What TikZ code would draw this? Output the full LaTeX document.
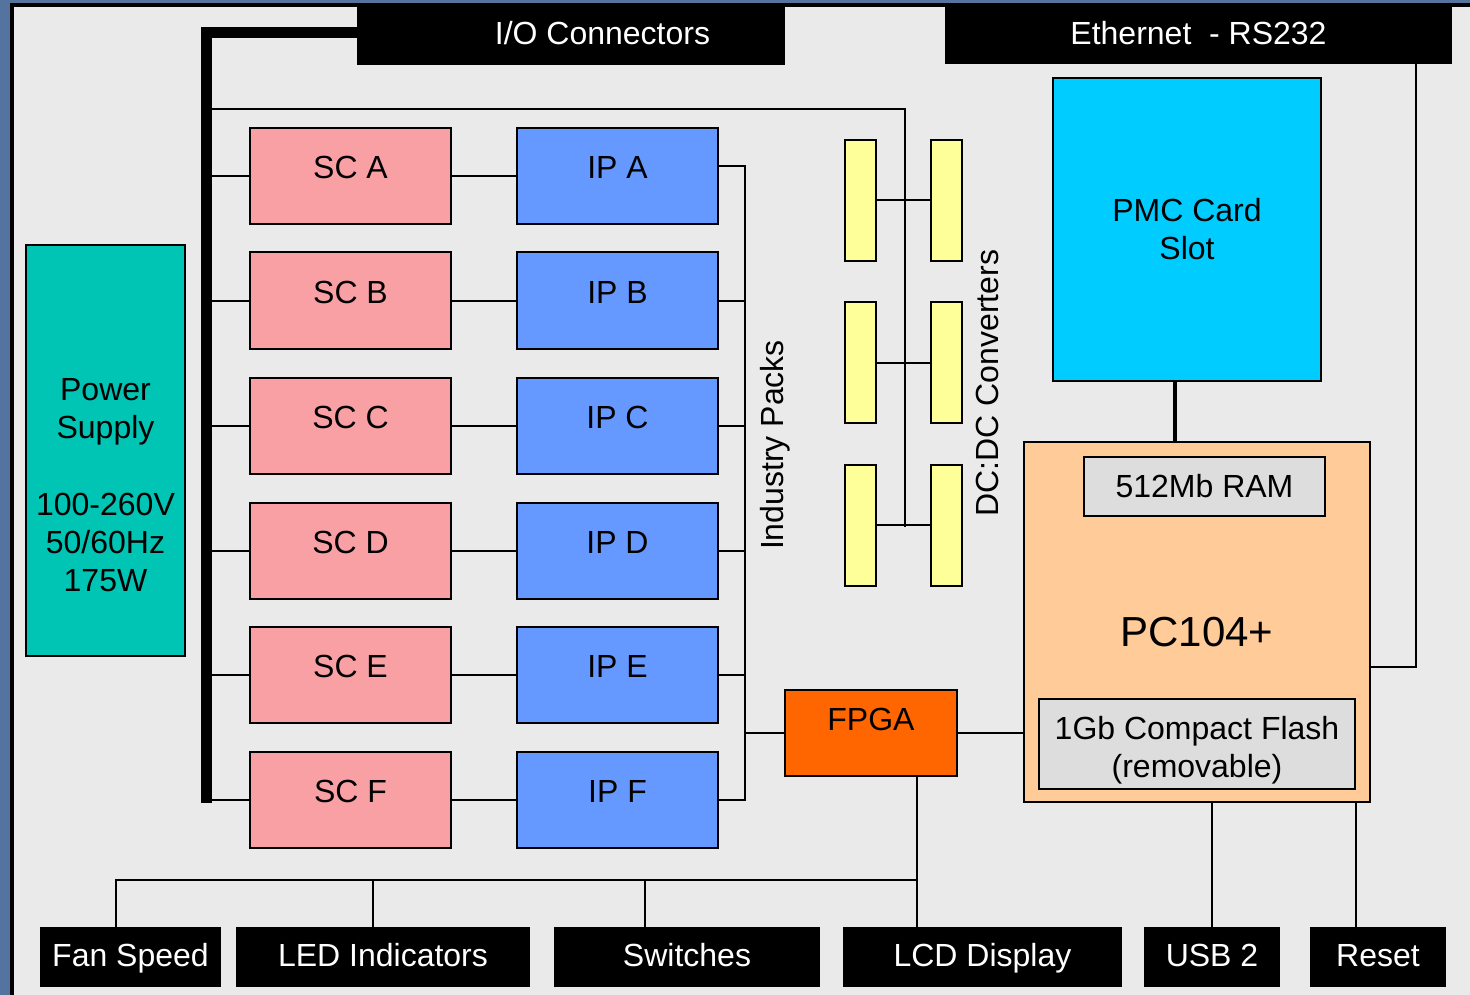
\documentclass[tikz,border=0pt]{standalone}
\usepackage{fontspec}
\setmainfont{Liberation Sans}

\definecolor{slateblue}{RGB}{84,115,158}
\definecolor{panelgrey}{RGB}{234,234,234}
\definecolor{scpink}{RGB}{249,160,165}
\definecolor{ipblue}{RGB}{102,153,255}
\definecolor{dcyellow}{RGB}{255,255,153}
\definecolor{fpgaorange}{RGB}{255,102,0}
\definecolor{pmccyan}{RGB}{0,204,255}
\definecolor{pcpeach}{RGB}{255,204,153}
\definecolor{memgrey}{RGB}{221,221,221}
\definecolor{psuteal}{RGB}{0,196,180}

\tikzset{
  blk/.style={draw=black, line width=2pt, inner sep=0pt, align=center,
    font=\fontsize{32}{38}\selectfont},
  sc/.style={blk, fill=scpink, minimum width=201pt, minimum height=96pt,
    text height=23pt, text depth=18pt},
  ip/.style={blk, fill=ipblue, minimum width=201pt, minimum height=96pt,
    text height=23pt, text depth=18pt},
  dcdc/.style={blk, fill=dcyellow, minimum width=31pt, minimum height=121pt},
  port/.style={fill=black, text=white, inner sep=0pt, minimum height=60pt,
    text height=23pt, text depth=5pt, font=\fontsize{32}{38}\selectfont},
  wire/.style={line width=2pt},
  bus/.style={line width=11pt},
}

\begin{document}
\begin{tikzpicture}[x=1pt,y=-1pt]
    % Backdrop and panel
    \fill[slateblue] (0,0) rectangle (1470,995);
    \useasboundingbox (0,0) rectangle (1470,995);
    \fill[panelgrey] (12,5) rectangle (1470,995);
    \draw[line width=4pt] (1470,5) -- (12,5) -- (12,995);

    % Top connectors
    \node[port, minimum width=428pt, minimum height=58pt] (io) at (571,36) {\hspace*{63pt}I/O Connectors};
    \node[port, minimum width=507pt, minimum height=57pt] (eth) at (1198.5,35.5) {Ethernet\ \ - RS232};

    % Power supply
    \node[blk, fill=psuteal, minimum width=159pt, minimum height=411pt] (psu) at (105.5,450.5) {};
    \node[align=center, font=\fontsize{32}{38}\selectfont] (psuLabel) at (105.5,485.5) {Power\\Supply\\[39pt]100-260V\\50/60Hz\\175W};

    % Signal conditioning
    \node[sc] (scA) at (350.5,176) {SC A};
    \node[sc] (scB) at (350.5,300.5) {SC B};
    \node[sc] (scC) at (350.5,425.5) {SC C};
    \node[sc] (scD) at (350.5,550.5) {SC D};
    \node[sc] (scE) at (350.5,674.5) {SC E};
    \node[sc] (scF) at (350.5,799.5) {SC F};

    % Industry packs
    \node[ip] (ipA) at (617.5,176) {IP A};
    \node[ip] (ipB) at (617.5,300.5) {IP B};
    \node[ip] (ipC) at (617.5,425.5) {IP C};
    \node[ip] (ipD) at (617.5,550.5) {IP D};
    \node[ip] (ipE) at (617.5,674.5) {IP E};
    \node[ip] (ipF) at (617.5,799.5) {IP F};
    \node[rotate=90, font=\fontsize{32}{38}\selectfont] (ipLabel) at (775,445) {Industry Packs};

    % DC:DC converters
    \node[dcdc] (dcL1) at (860.5,200.5) {};
    \node[dcdc] (dcR1) at (946.5,200.5) {};
    \node[dcdc] (dcL2) at (860.5,362.5) {};
    \node[dcdc] (dcR2) at (946.5,362.5) {};
    \node[dcdc] (dcL3) at (860.5,525) {};
    \node[dcdc] (dcR3) at (946.5,525) {};
    \node[rotate=90, font=\fontsize{32}{38}\selectfont] (dcLabel) at (987,383) {DC:DC Converters};

    % FPGA
    \node[blk, fill=fpgaorange, minimum width=172pt, minimum height=86pt,
      text height=23pt, text depth=28pt] (fpga) at (871,733) {FPGA};

    % PMC and PC104+
    \node[blk, fill=pmccyan, minimum width=268pt, minimum height=303pt] (pmc) at (1187,229.5) {PMC Card\\Slot};
    \node[blk, fill=pcpeach, minimum width=346pt, minimum height=360pt] (pc104) at (1197,622) {};
    \node[font=\fontsize{42}{50}\selectfont] (pcLabel) at (1197,632) {PC104+};
    \node[blk, fill=memgrey, minimum width=241pt, minimum height=59pt] (ram) at (1204.5,486.5) {512Mb RAM};
    \node[blk, fill=memgrey, minimum width=316pt, minimum height=90pt] (flash) at (1197,744) {\rule{0pt}{35pt}1Gb Compact Flash\\(removable)};

    % Bottom connectors
    \node[port, minimum width=181pt] (fan) at (130.5,957) {Fan Speed};
    \node[port, minimum width=294pt] (led) at (383,957) {LED Indicators};
    \node[port, minimum width=266pt] (sw) at (687,957) {Switches};
    \node[port, minimum width=279pt] (lcd) at (982.5,957) {LCD Display};
    \node[port, minimum width=136pt] (usb) at (1212,957) {USB 2};
    \node[port, minimum width=136pt] (reset) at (1378,957) {Reset};

    % Main bus
    \coordinate (busTop) at (206,33);
    \coordinate (busBot) at (206,803);
    \draw[bus] (io.west |- busTop) -- (busTop) -- (busBot);
    \draw[wire] (scA.west) -- (scA.west -| busTop);
    \draw[wire] (scB.west) -- (scB.west -| busTop);
    \draw[wire] (scC.west) -- (scC.west -| busTop);
    \draw[wire] (scD.west) -- (scD.west -| busTop);
    \draw[wire] (scE.west) -- (scE.west -| busTop);
    \draw[wire] (scF.west) -- (scF.west -| busTop);

    % SC to IP
    \draw[wire] (scA) -- (ipA);
    \draw[wire] (scB) -- (ipB);
    \draw[wire] (scC) -- (ipC);
    \draw[wire] (scD) -- (ipD);
    \draw[wire] (scE) -- (ipE);
    \draw[wire] (scF) -- (ipF);

    % IP rail to FPGA
    \coordinate (ipTop) at (745,166);
    \coordinate (ipBot) at (745,800);
    \draw[wire] (ipA.east |- ipTop) -- (ipTop) -- (ipBot) -- (ipBot -| ipF.east);
    \draw[wire] (ipB.east) -- (ipB.east -| ipTop);
    \draw[wire] (ipC.east) -- (ipC.east -| ipTop);
    \draw[wire] (ipD.east) -- (ipD.east -| ipTop);
    \draw[wire] (ipE.east) -- (ipE.east -| ipTop);
    \draw[wire] (fpga.west) -- (fpga.west -| ipTop);

    % DC:DC feed
    \coordinate (dcTop) at (905,109);
    \coordinate (dcBot) at (905,527);
    \draw[wire] (dcTop -| busTop) -- (dcTop) -- (dcBot);
    \draw[wire] (dcL1) -- (dcR1);
    \draw[wire] (dcL2) -- (dcR2);
    \draw[wire] (dcL3) -- (dcR3);

    % FPGA and PC104+ links
    \draw[wire] (fpga.east) -- (fpga.east -| pc104.west);
    \draw[line width=4pt] ([xshift=-12pt]pmc.south) -- ([xshift=-12pt]pmc.south |- pc104.north);
    \coordinate (ethTap) at (1416,667);
    \draw[wire] (ethTap |- eth.south) -- (ethTap) -- (ethTap -| pc104.east);

    % Front panel lines
    \coordinate (ctrlR) at (917,880);
    \coordinate (fanTap) at (116,880);
    \coordinate (ledTap) at (373,880);
    \coordinate (swTap) at (645,880);
    \coordinate (rstTap) at (1356,880);
    \draw[wire] (ctrlR |- fpga.south) -- (ctrlR |- lcd.north);
    \draw[wire] (fanTap |- fan.north) -- (fanTap) -- (ctrlR);
    \draw[wire] (ledTap) -- (ledTap |- led.north);
    \draw[wire] (swTap) -- (swTap |- sw.north);
    \draw[wire] (usb.north) -- (usb.north |- pc104.south);
    \draw[wire] (rstTap |- pc104.south) -- (rstTap |- reset.north);

\end{tikzpicture}
\end{document}
